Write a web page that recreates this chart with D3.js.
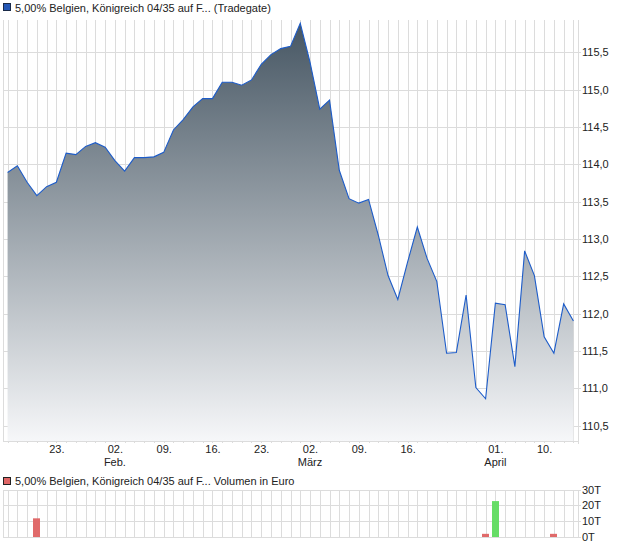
<!DOCTYPE html>
<html>
<head>
    <title></title>
    <meta charset="utf-8" />
    <script src="https://cdn.jsdelivr.net/npm/d3@7"></script>
    <style>
        body { margin: 0; background: #fff; }
        svg { font-family: "Liberation Sans", Arial, sans-serif; font-size: 11px; }
        .grid line { stroke: #dcdcdc; shape-rendering: crispEdges; }
        .axis path { display: none; }
        .axis line { stroke: #c8c8c8; shape-rendering: crispEdges; }
        .axis text { fill: #222; font-size: 11px; }
    </style>
</head>
<body>
    <script>
        // Handelstage ab 16.01., Index 0..58
        var closes = [
            113.89, 113.98, 113.76, 113.58, 113.70, 113.76, 114.15, 114.13, 114.24, 114.29,
            114.23, 114.05, 113.91, 114.09, 114.09, 114.10, 114.16, 114.46, 114.60, 114.77,
            114.88, 114.88, 115.10, 115.10, 115.06, 115.13, 115.34, 115.47, 115.55, 115.58,
            115.89, 115.37, 114.74, 114.86, 113.92, 113.54, 113.48, 113.53, 113.05, 112.51,
            112.19, 112.69, 113.16, 112.74, 112.43, 111.47, 111.48, 112.25, 111.01, 110.86,
            112.14, 112.12, 111.29, 112.84, 112.51, 111.69, 111.47, 112.13, 111.90
        ];
        // Volumen in Euro (nur Tage mit Umsatz)
        var volIndex = [3, 49, 50, 56];
        var volValues = [11600, 1700, 22600, 1700];

        var xTickIndex = [5, 11, 16, 21, 26, 31, 36, 41, 50, 55];
        var xTickLabels = ['23.', '02.', '09.', '16.', '23.', '02.', '09.', '16.', '01.', '10.'];
        var monthIndex = [11, 31, 50];
        var monthLabels = ['Feb.', 'März', 'April'];

        var yTicks = [110.5, 111.0, 111.5, 112.0, 112.5, 113.0, 113.5, 114.0, 114.5, 115.0, 115.5];
        var volTicks = [0, 10000, 20000, 30000];
        var volTickLabels = ['0T', '10T', '20T', '30T'];

        var pLeft = 3, pRight = 578, pTop = 20, pBottom = 441;
        var vTop = 489.5, vBottom = 536.5;

        var svg = d3.select('body').append('svg').attr('width', 620).attr('height', 546);

        var x = d3.scaleLinear().domain([-0.47, closes.length - 1 + 0.47]).range([pLeft, pRight]);
        var y = d3.scaleLinear().domain([110.294, 115.933]).range([pBottom, pTop]);
        var yv = d3.scaleLinear().domain([0, 30000]).range([vBottom, vTop]);

        var px = function (v) { return Math.round(v) + 0.5; };
        var fmt = function (v) { return v.toFixed(1).replace('.', ','); };

        // Kopfzeile
        svg.append('rect').attr('x', 3.5).attr('y', 3.5).attr('width', 7).attr('height', 7)
            .attr('fill', '#2457b5').attr('stroke', '#1a2a48');
        svg.append('text').attr('x', 15).attr('y', 12).attr('fill', '#222')
            .text('5,00% Belgien, Königreich 04/35 auf F... (Tradegate)');

        // Gitter Kurs
        var grid = svg.append('g').attr('class', 'grid');
        grid.selectAll('.v').data(d3.range(closes.length)).enter().append('line')
            .attr('x1', function (d) { return px(x(d)); }).attr('x2', function (d) { return px(x(d)); })
            .attr('y1', pTop).attr('y2', pBottom);
        grid.selectAll('.h').data(yTicks).enter().append('line')
            .attr('x1', pLeft).attr('x2', pRight + 3)
            .attr('y1', function (d) { return px(y(d)); }).attr('y2', function (d) { return px(y(d)); });
        grid.append('line').attr('x1', px(pLeft)).attr('x2', px(pLeft)).attr('y1', pTop).attr('y2', pBottom);
        grid.append('line').attr('x1', px(pRight)).attr('x2', px(pRight)).attr('y1', pTop).attr('y2', pBottom + 3);
        grid.append('line').attr('x1', pLeft).attr('x2', pRight).attr('y1', px(pBottom)).attr('y2', px(pBottom));

        // Flaeche mit Verlauf
        var grad = svg.append('defs').append('linearGradient').attr('id', 'fillGrad')
            .attr('gradientUnits', 'userSpaceOnUse').attr('x1', 0).attr('x2', 0).attr('y1', pTop).attr('y2', pBottom);
        grad.append('stop').attr('offset', '0%').attr('stop-color', '#455562');
        grad.append('stop').attr('offset', '100%').attr('stop-color', '#f6f7f9');

        var area = d3.area()
            .x(function (d, i) { return x(i); })
            .y0(pBottom)
            .y1(function (d) { return y(d); });
        var line = d3.line()
            .x(function (d, i) { return x(i); })
            .y(function (d) { return y(d); });

        svg.append('path').datum(closes).attr('d', area).attr('fill', 'url(#fillGrad)');
        svg.append('path').datum(closes).attr('d', line)
            .attr('fill', 'none').attr('stroke', '#1d5cc9').attr('stroke-width', 1.1);

        // Achsen
        var yAxis = d3.axisRight(y).tickValues(yTicks).tickFormat(fmt).tickSize(0).tickPadding(4);
        svg.append('g').attr('class', 'axis').attr('transform', 'translate(' + pRight + ',0)').call(yAxis);

        var dayTicks = svg.append('g').attr('class', 'grid');
        dayTicks.selectAll('line').data(d3.range(closes.length)).enter().append('line')
            .attr('x1', function (d) { return px(x(d)); }).attr('x2', function (d) { return px(x(d)); })
            .attr('y1', pBottom).attr('y2', pBottom + 2);

        var xAxis = d3.axisBottom(x).tickValues(xTickIndex)
            .tickFormat(function (d, i) { return xTickLabels[i]; }).tickSize(0).tickPadding(4);
        svg.append('g').attr('class', 'axis').attr('transform', 'translate(0,' + pBottom + ')').call(xAxis);

        svg.append('g').selectAll('text').data(monthIndex).enter().append('text')
            .attr('x', function (d) { return x(d); }).attr('y', 466)
            .attr('text-anchor', 'middle').attr('fill', '#222')
            .text(function (d, i) { return monthLabels[i]; });

        // Volumen
        svg.append('rect').attr('x', 3.5).attr('y', 477.5).attr('width', 7).attr('height', 7)
            .attr('fill', '#e06666').attr('stroke', '#222');
        svg.append('text').attr('x', 15).attr('y', 485).attr('fill', '#222')
            .text('5,00% Belgien, Königreich 04/35 auf F... Volumen in Euro');

        var vgrid = svg.append('g').attr('class', 'grid');
        vgrid.selectAll('.v').data(d3.range(closes.length)).enter().append('line')
            .attr('x1', function (d) { return px(x(d)); }).attr('x2', function (d) { return px(x(d)); })
            .attr('y1', vTop).attr('y2', vBottom);
        vgrid.selectAll('.h').data(volTicks).enter().append('line')
            .attr('x1', pLeft).attr('x2', pRight + 3)
            .attr('y1', function (d) { return px(yv(d)); }).attr('y2', function (d) { return px(yv(d)); });
        vgrid.append('line').attr('x1', px(pLeft)).attr('x2', px(pLeft)).attr('y1', vTop).attr('y2', vBottom);
        vgrid.append('line').attr('x1', px(pRight)).attr('x2', px(pRight)).attr('y1', vTop).attr('y2', vBottom);

        svg.append('g').selectAll('rect').data(volIndex).enter().append('rect')
            .attr('x', function (d) { return Math.round(x(d) - 3.5); })
            .attr('width', 7)
            .attr('y', function (d, i) { return yv(volValues[i]); })
            .attr('height', function (d, i) { return vBottom + 0.5 - yv(volValues[i]); })
            .attr('fill', function (d) { return closes[d] >= closes[d - 1] ? '#66dd66' : '#e06a6a'; });

        var vAxis = d3.axisRight(yv).tickValues(volTicks)
            .tickFormat(function (d, i) { return volTickLabels[i]; }).tickSize(0).tickPadding(4);
        svg.append('g').attr('class', 'axis').attr('transform', 'translate(' + pRight + ',0)').call(vAxis);
    </script>
</body>
</html>
